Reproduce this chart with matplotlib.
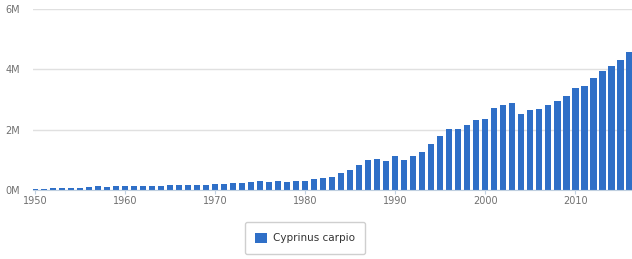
import matplotlib
matplotlib.use('Agg')
import matplotlib.pyplot as plt
from matplotlib.ticker import FuncFormatter

# years and production (tonnes)
years = list(range(1950, 2017))
production = [
    0.04, 0.04, 0.05, 0.05, 0.08, 0.08, 0.09, 0.13, 0.10, 0.13,   # 1950-59
    0.14, 0.14, 0.14, 0.14, 0.14, 0.17, 0.17, 0.17, 0.17, 0.17,   # 1960-69
    0.19, 0.20, 0.23, 0.24, 0.28, 0.31, 0.27, 0.31, 0.26, 0.29,   # 1970-79
    0.31, 0.36, 0.39, 0.44, 0.55, 0.66, 0.83, 0.99, 1.04, 0.95,   # 1980-89
    1.13, 0.99, 1.13, 1.27, 1.52, 1.79, 2.01, 2.01, 2.15, 2.32,   # 1990-99
    2.36, 2.71, 2.81, 2.90, 2.51, 2.65, 2.67, 2.81, 2.96, 3.12,   # 2000-09
    3.39, 3.45, 3.72, 3.94, 4.12, 4.31, 4.57,                     # 2010-16
]
production = [v * 1e6 for v in production]
series_name = 'Cyprinus carpio'
y_ticks = [0, 2e6, 4e6, 6e6]
x_ticks = [1950, 1960, 1970, 1980, 1990, 2000, 2010]

bar_color = '#2f6fc7'
label_color = '#707070'

fig = plt.figure(figsize=(6.32, 2.59), dpi=100)
ax = fig.add_axes([33 / 632, 1 - 190 / 259, 1 - 33 / 632, (190 - 9) / 259])

ax.bar(years, production, width=0.72, color=bar_color, label=series_name, zorder=2)

ax.set_xlim(1949.78, 2016.3)
ax.set_ylim(0, 6e6)
ax.set_yticks(y_ticks)
ax.yaxis.set_major_formatter(FuncFormatter(lambda v, p: '%dM' % round(v / 1e6)))
ax.set_xticks(x_ticks)

ax.grid(axis='y', color='#e0e0e0', linewidth=1, zorder=0)
for s in ['top', 'right', 'left']:
    ax.spines[s].set_visible(False)
ax.spines['bottom'].set_color('#c0d0e0')
ax.tick_params(axis='y', length=0, pad=9, labelsize=7, labelcolor=label_color)
ax.tick_params(axis='x', length=3, color='#c0d0e0', pad=1, labelsize=7, labelcolor=label_color)

leg = fig.legend(loc='center', bbox_to_anchor=(305 / 632, 1 - 238 / 259), fontsize=7.5,
                 frameon=True, fancybox=True, handlelength=1.1, handleheight=1.1,
                 handletextpad=0.6, borderpad=1.0, labelcolor='#333333')
leg.get_frame().set_edgecolor('#c4c4c4')
leg.get_frame().set_linewidth(1)

fig.savefig('out.png', dpi=100)
